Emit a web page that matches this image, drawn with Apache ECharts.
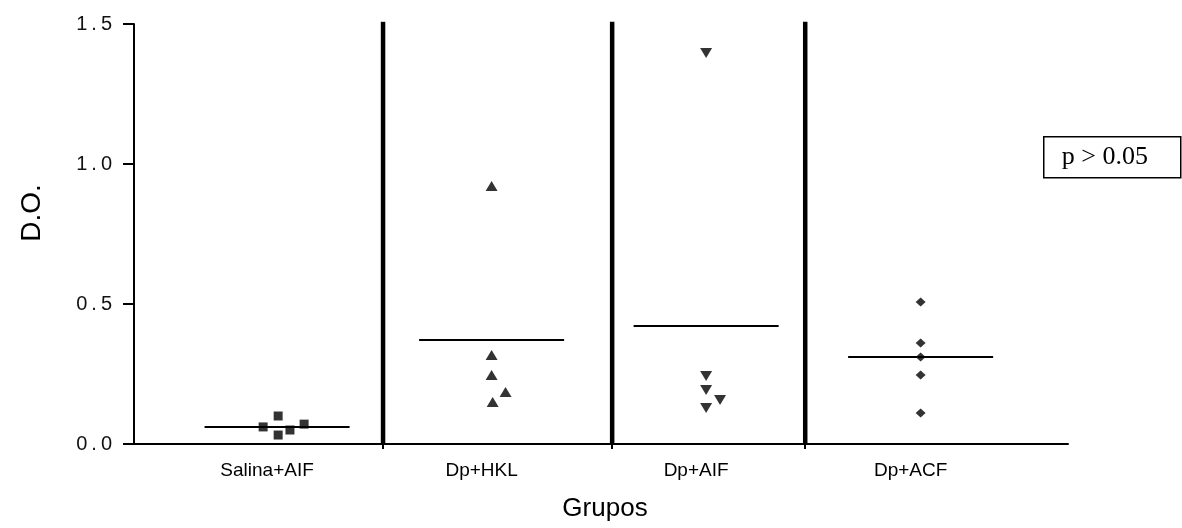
<!DOCTYPE html>
<html>
<head>
<meta charset="utf-8">
<script src="https://cdn.jsdelivr.net/npm/echarts@6/dist/echarts.min.js"></script>
<style>
  html, body { margin: 0; padding: 0; background: #fff; }
  #chart { width: 1182px; height: 528px; }
</style>
</head>
<body>
<div id="chart"></div>
<script>
// groups on the x axis
const groups = ['Salina+AIF', 'Dp+HKL', 'Dp+AIF', 'Dp+ACF']
const groupPos = [1, 2, 3, 4]

// D.O. values
const salina = [0.061, 0.10, 0.032, 0.05, 0.071]
const dpHkl = [0.921, 0.318, 0.246, 0.186, 0.15]
const dpAif = [1.396, 0.243, 0.193, 0.157, 0.129]
const dpAcf = [0.507, 0.361, 0.311, 0.246, 0.111]

// small horizontal scatter of the points inside each group
const salinaJitter = [-0.065, 0.005, 0.005, 0.06, 0.126]
const hklJitter = [0, 0, 0, 0.065, 0.005]
const aifJitter = [0, 0, 0, 0.065, 0]
const acfJitter = [0, 0, 0, 0, 0]

// group means (horizontal bars)
const means = [0.061, 0.371, 0.421, 0.311]

// thick separators between groups
const dividers = [1.494, 2.562, 3.462]
const dividerTops = [1.51, 1.53, 1.52]

function points(pos, vals, jitter) {
  return vals.map((v, i) => [pos + jitter[i], v])
}

let chart = echarts.init(document.getElementById('chart'))

let series = [
  {
    type: 'scatter', symbol: 'rect', symbolSize: 9,
    itemStyle: { color: '#000' },
    data: points(groupPos[0], salina, salinaJitter)
  },
  {
    type: 'scatter', symbol: 'triangle', symbolSize: [12, 10],
    itemStyle: { color: '#000' },
    data: points(groupPos[1], dpHkl, hklJitter)
  },
  {
    type: 'scatter', symbol: 'triangle', symbolSize: [12, 10], symbolRotate: 180,
    itemStyle: { color: '#000' },
    data: points(groupPos[2], dpAif, aifJitter)
  },
  {
    type: 'scatter', symbol: 'diamond', symbolSize: [10, 9],
    itemStyle: { color: '#000' },
    data: points(groupPos[3], dpAcf, acfJitter)
  }
]

// mean bars
means.forEach((m, i) => {
  series.push({
    type: 'line', symbol: 'none', silent: true,
    lineStyle: { color: '#000', width: 2 },
    data: [[groupPos[i] - 0.338, m], [groupPos[i] + 0.338, m]],
    z: 1
  })
})

// separators
dividers.forEach((d, i) => {
  series.push({
    type: 'line', symbol: 'none', silent: true,
    lineStyle: { color: '#000', width: 4.5 },
    data: [[d, 0], [d, dividerTops[i]]],
    z: 1
  })
})

chart.setOption({
  animation: false,
  backgroundColor: '#fff',
  grid: { left: 134, right: 114, top: 24, bottom: 84 },
  xAxis: {
    type: 'value',
    min: 0.333,
    max: 4.687,
    splitLine: { show: false },
    axisLine: { lineStyle: { color: '#000', width: 2 } },
    axisTick: { customValues: dividers, length: 5, lineStyle: { color: '#000', width: 2 } },
    axisLabel: {
      customValues: groupPos,
      formatter: v => groups[Math.round(v) - 1],
      color: '#000',
      fontFamily: 'Liberation Sans',
      fontSize: 19,
      margin: 17,
      padding: [0, 20, 0, 0]
    },
    name: 'Grupos',
    nameLocation: 'middle',
    nameGap: 52,
    nameTextStyle: { color: '#000', fontFamily: 'Liberation Sans', fontSize: 26, padding: [0, 0, 0, 8] }
  },
  yAxis: {
    type: 'value',
    min: 0,
    max: 1.5,
    interval: 0.5,
    splitLine: { show: false },
    axisLine: { show: true, lineStyle: { color: '#000', width: 2 } },
    axisTick: { show: true, length: 11, lineStyle: { color: '#000', width: 2 } },
    axisLabel: {
      formatter: v => v.toFixed(1).split('').join('\u2009'),
      color: '#111',
      fontFamily: 'Liberation Sans',
      fontSize: 20,
      margin: 22
    },
    name: 'D.O.',
    nameLocation: 'middle',
    nameGap: 88,
    nameTextStyle: { color: '#000', fontFamily: 'Liberation Sans', fontSize: 28, padding: [0, 0, 0, 42] }
  },
  graphic: [
    {
      type: 'group',
      left: 1043,
      top: 136,
      children: [
        {
          type: 'rect',
          shape: { x: 0, y: 0, width: 137, height: 41 },
          style: { fill: '#fff', stroke: '#000', lineWidth: 1.5 }
        },
        {
          type: 'text',
          x: 18, y: 7,
          style: { text: 'p > 0.05', font: '26px "Liberation Serif"', fill: '#000' }
        }
      ]
    }
  ],
  series: series
})
</script>
</body>
</html>
